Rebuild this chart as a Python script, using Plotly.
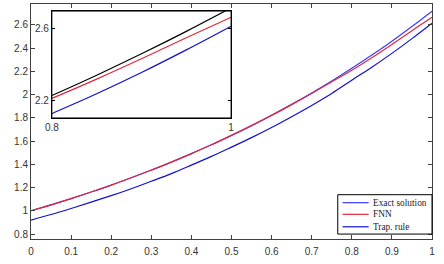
import plotly.graph_objects as go

x_vals = [0.00, 0.05, 0.10, 0.15, 0.20, 0.25, 0.30, 0.35, 0.40, 0.45, 0.50,
          0.55, 0.60, 0.65, 0.70, 0.75, 0.80, 0.85, 0.90, 0.95, 1.00]
exact = [1.000, 1.051, 1.105, 1.162, 1.221, 1.284, 1.350, 1.419, 1.492, 1.568, 1.649,
         1.733, 1.822, 1.916, 2.014, 2.117, 2.226, 2.340, 2.460, 2.586, 2.718]
fnn = [1.000, 1.051, 1.105, 1.162, 1.221, 1.284, 1.350, 1.419, 1.492, 1.568, 1.649,
       1.733, 1.821, 1.914, 2.010, 2.110, 2.210, 2.318, 2.432, 2.550, 2.665]
trap = [0.920, 0.968, 1.020, 1.074, 1.130, 1.190, 1.254, 1.320, 1.393, 1.468, 1.548,
        1.630, 1.717, 1.810, 1.907, 2.010, 2.124, 2.236, 2.355, 2.482, 2.615]

series_names = ["Exact solution", "FNN", "Trap. rule"]

x_ticks = [0, 0.1, 0.2, 0.3, 0.4, 0.5, 0.6, 0.7, 0.8, 0.9, 1]
x_ticklabels = ["0", "0.1", "0.2", "0.3", "0.4", "0.5", "0.6", "0.7", "0.8", "0.9", "1"]
y_ticks = [0.8, 1.0, 1.2, 1.4, 1.6, 1.8, 2.0, 2.2, 2.4, 2.6]
y_ticklabels = ["0.8", "1", "1.2", "1.4", "1.6", "1.8", "2", "2.2", "2.4", "2.6"]
inset_x_ticks = [0.8, 1.0]
inset_x_ticklabels = ["0.8", "1"]
inset_y_ticks = [2.2, 2.6]
inset_y_ticklabels = ["2.2", "2.6"]

BLUE_EXACT = "#3a3aff"
BLUE_TRAP = "#1010d0"
RED = "#e0283c"
main_colors = [BLUE_EXACT, RED, BLUE_TRAP]
inset_colors = ["black", RED, BLUE_TRAP]
series = [exact, fnn, trap]

fig = go.Figure()
for name, ys, c in zip(series_names, series, main_colors):
    fig.add_trace(go.Scatter(x=x_vals, y=ys, mode="lines", name=name, showlegend=False,
                             line=dict(color=c, width=1.2, shape="spline")))
for ys, c in zip(series, inset_colors):
    fig.add_trace(go.Scatter(x=x_vals, y=ys, mode="lines", showlegend=False,
                             line=dict(color=c, width=1.2, shape="spline"),
                             xaxis="x2", yaxis="y2"))

tickfont = dict(family="Liberation Sans, Arial", size=10, color="#333333")
axis_common = dict(showgrid=False, zeroline=False, showline=True, linecolor="#404040",
                   linewidth=1, mirror="ticks", ticks="inside", ticklen=4,
                   tickcolor="#404040", tickfont=tickfont)

fig.update_layout(
    width=444, height=264,
    margin=dict(l=31, r=12, t=4, b=25),
    paper_bgcolor="white", plot_bgcolor="white",
    showlegend=False,
    xaxis=dict(range=[0, 1], tickvals=x_ticks, ticktext=x_ticklabels,
               domain=[0, 1], ticklabelstandoff=3, **axis_common),
    yaxis=dict(range=[0.757, 2.78], tickvals=y_ticks, ticktext=y_ticklabels,
               domain=[0, 1], **axis_common),
    xaxis2=dict(range=[0.8, 1.0], tickvals=inset_x_ticks, ticktext=inset_x_ticklabels,
                domain=[0.052, 0.499], anchor="y2", showgrid=False, zeroline=False,
                showline=True, linecolor="black", linewidth=1, mirror=True,
                ticks="inside", ticklen=3, tickcolor="black", tickfont=tickfont),
    yaxis2=dict(range=[2.10, 2.70], tickvals=inset_y_ticks, ticktext=inset_y_ticklabels,
                domain=[0.515, 0.970], anchor="x2", showgrid=False, zeroline=False,
                showline=True, linecolor="black", linewidth=1, mirror="ticks",
                ticks="inside", ticklen=3, tickcolor="black", tickfont=tickfont),
)
fig.add_shape(type="rect", xref="x2 domain", yref="y2 domain", x0=0, x1=1, y0=0, y1=1,
              line=dict(color="black", width=1), fillcolor="rgba(0,0,0,0)", layer="above")

# custom compact legend (bottom-right)
fig.add_shape(type="rect", xref="paper", yref="paper", x0=0.765, x1=1.0, y0=0.021, y1=0.1885,
              line=dict(color="black", width=1), fillcolor="white", layer="above")
row_y = [0.1545, 0.105, 0.052]
for name, c, ry in zip(series_names, main_colors, row_y):
    fig.add_shape(type="line", xref="paper", yref="paper", x0=0.777, x1=0.842, y0=ry, y1=ry,
                  line=dict(color=c, width=1.2), layer="above")
    fig.add_annotation(xref="paper", yref="paper", x=0.848, y=ry, text=name, showarrow=False,
                       xanchor="left", yanchor="middle",
                       font=dict(family="Liberation Serif, Times New Roman", size=9.3,
                                 color="#222222"))

fig.write_html("out.html")
